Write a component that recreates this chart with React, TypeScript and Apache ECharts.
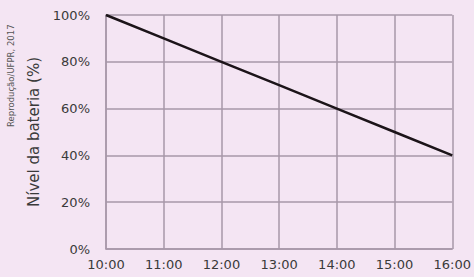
import React, { useEffect, useRef } from "react";
import * as echarts from "echarts";

const hours = ["10:00", "11:00", "12:00", "13:00", "14:00", "15:00", "16:00"];
const battery = [100, 90, 80, 70, 60, 50, 40];
const yTicks = [0, 20, 40, 60, 80, 100];

export default function App() {
  const ref = useRef<HTMLDivElement>(null);
  useEffect(() => {
    const chart = echarts.init(ref.current!, null, { renderer: "svg" });
    const grid = "#a797a8";
    chart.setOption({
      animation: false,
      backgroundColor: "#f4e5f3",
      textStyle: { fontFamily: "DejaVu Sans" },
      grid: { left: 106, right: 21, top: 15, bottom: 28 },
      graphic: [
        {
          type: "text",
          x: 6,
          y: 127,
          rotation: Math.PI / 2,
          style: {
            text: "Reprodução/UFPR, 2017",
            fontSize: 8.5,
            fontFamily: "DejaVu Sans",
            fill: "#555",
          },
        },
      ],
      xAxis: {
        type: "category",
        data: hours,
        boundaryGap: false,
        axisLine: { show: true, lineStyle: { color: grid, width: 1.5 } },
        axisTick: { show: false },
        axisLabel: { color: "#3a3a3a", fontSize: 13, margin: 9, interval: 0 },
        splitLine: { show: true, lineStyle: { color: grid, width: 1.5 } },
      },
      yAxis: {
        type: "value",
        min: 0,
        max: 100,
        interval: 20,
        name: "Nível da bateria (%)",
        nameLocation: "middle",
        nameGap: 62,
        nameTextStyle: { fontSize: 15, color: "#3a3a3a", fontFamily: "DejaVu Sans" },
        axisLine: { show: true, lineStyle: { color: grid, width: 1.5 } },
        axisTick: { show: false },
        axisLabel: {
          color: "#3a3a3a",
          fontSize: 13,
          margin: 16,
          formatter: (v: number) => (yTicks.includes(v) ? v + "%" : ""),
        },
        splitLine: { show: true, lineStyle: { color: grid, width: 1.5 } },
      },
      series: [
        {
          type: "line",
          data: battery,
          symbol: "none",
          lineStyle: { color: "#1c1419", width: 2.5 },
        },
      ],
    });
    return () => chart.dispose();
  }, []);
  return (
    <div
      ref={ref}
      style={{ position: "fixed", left: 0, top: 0, width: 474, height: 277 }}
    />
  );
}
